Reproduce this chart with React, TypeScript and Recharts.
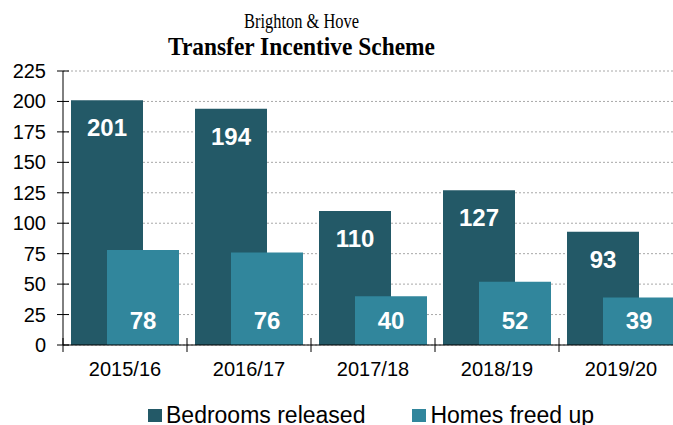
import React from 'react';
import { BarChart, Bar, XAxis, YAxis, CartesianGrid, LabelList, Legend } from 'recharts';

const years = ['2015/16', '2016/17', '2017/18', '2018/19', '2019/20'];
const bedroomsReleased = [201, 194, 110, 127, 93];
const homesFreedUp = [78, 76, 40, 52, 39];
const yTicks = [0, 25, 50, 75, 100, 125, 150, 175, 200, 225];
const seriesNames = ['Bedrooms released', 'Homes freed up'];
const titleLine1 = 'Brighton & Hove';
const titleLine2 = 'Transfer Incentive Scheme';

const data = years.map((y, i) => ({ year: y, bedrooms: bedroomsReleased[i], homes: homesFreedUp[i] }));

const DARK = '#235967';
const LIGHT = '#31869c';
const FONT = '"Liberation Sans", Arial, sans-serif';
const SERIF = '"Liberation Serif", "Times New Roman", serif';

const XTick = (props: any) => {
  const { x, y, payload } = props;
  const half = payload && typeof payload.offset === 'number' && payload.offset > 0 ? payload.offset : 62;
  return (
    <g>
      <line x1={x - half} x2={x - half} y1={y - 7} y2={y + 7} stroke="#000" strokeWidth={1} />
      <text x={x} y={y + 31} textAnchor="middle" fontSize={20} fontFamily={FONT} fill="#000">
        {payload.value}
      </text>
    </g>
  );
};

const YTick = (props: any) => {
  const { x, y, payload } = props;
  return (
    <g>
      <line x1={x - 6} x2={x + 6} y1={y} y2={y} stroke="#000" strokeWidth={1} />
      <text x={x - 17} y={y + 7} textAnchor="end" fontSize={20} fontFamily={FONT} fill="#000">
        {payload.value}
      </text>
    </g>
  );
};

const renderLegend = (props: any) => {
  const items = props.payload || [];
  return (
    <div style={{ display: 'flex', alignItems: 'center', fontFamily: FONT, fontSize: 23, lineHeight: '23px', color: '#000', whiteSpace: 'nowrap' }}>
      {items.map((it: any, i: number) => (
        <div key={i} style={{ display: 'flex', alignItems: 'center', marginRight: i === 0 ? 47 : 0 }}>
          <span style={{ display: 'inline-block', width: 14, height: 13, background: it.color, marginRight: 4 }} />
          <span>{it.value}</span>
        </div>
      ))}
    </div>
  );
};

export default function App() {
  return (
    <div style={{ position: 'fixed', left: 0, top: 0, width: 673, height: 425, overflow: 'hidden', background: '#fff' }}>
      <svg width={673} height={70} style={{ position: 'absolute', left: 0, top: 0 }}>
        <text x={301.5} y={27.5} textAnchor="middle" fontFamily={SERIF} fontSize={20} fill="#000" textLength={115} lengthAdjust="spacingAndGlyphs">
          {titleLine1}
        </text>
        <text x={301.5} y={55} textAnchor="middle" fontFamily={SERIF} fontSize={24.5} fontWeight="bold" fill="#000" textLength={267} lengthAdjust="spacingAndGlyphs">
          {titleLine2}
        </text>
      </svg>
      <BarChart
        width={700}
        height={425}
        data={data}
        margin={{ top: 71, right: 17, bottom: 50, left: 0 }}
        barSize={72}
        barGap={-36}
      >
        <CartesianGrid vertical={false} stroke="#a8a8a8" strokeDasharray="2 2" />
        <XAxis
          dataKey="year"
          height={30}
          tickSize={0}
          tickMargin={0}
          tickLine={false}
          axisLine={{ stroke: '#000', strokeWidth: 1 }}
          tick={<XTick />}
          interval={0}
        />
        <YAxis
          width={63}
          domain={[0, 225]}
          ticks={yTicks}
          tickSize={0}
          tickMargin={0}
          tickLine={false}
          axisLine={{ stroke: '#000', strokeWidth: 1 }}
          tick={<YTick />}
          interval={0}
        />
        <Legend
          content={renderLegend}
          verticalAlign="middle"
          layout="horizontal"
          wrapperStyle={{ position: 'absolute', left: 148, top: 404, width: 'auto', height: 'auto' }}
        />
        <Bar dataKey="bedrooms" name={seriesNames[0]} fill={DARK} isAnimationActive={false}>
          <LabelList dataKey="bedrooms" position="insideTop" offset={19} fill="#fff" fontSize={24} fontWeight="bold" fontFamily={FONT} />
        </Bar>
        <Bar dataKey="homes" name={seriesNames[1]} fill={LIGHT} isAnimationActive={false}>
          <LabelList dataKey="homes" position="insideBottom" offset={16} fill="#fff" fontSize={24} fontWeight="bold" fontFamily={FONT} />
        </Bar>
      </BarChart>
    </div>
  );
}
